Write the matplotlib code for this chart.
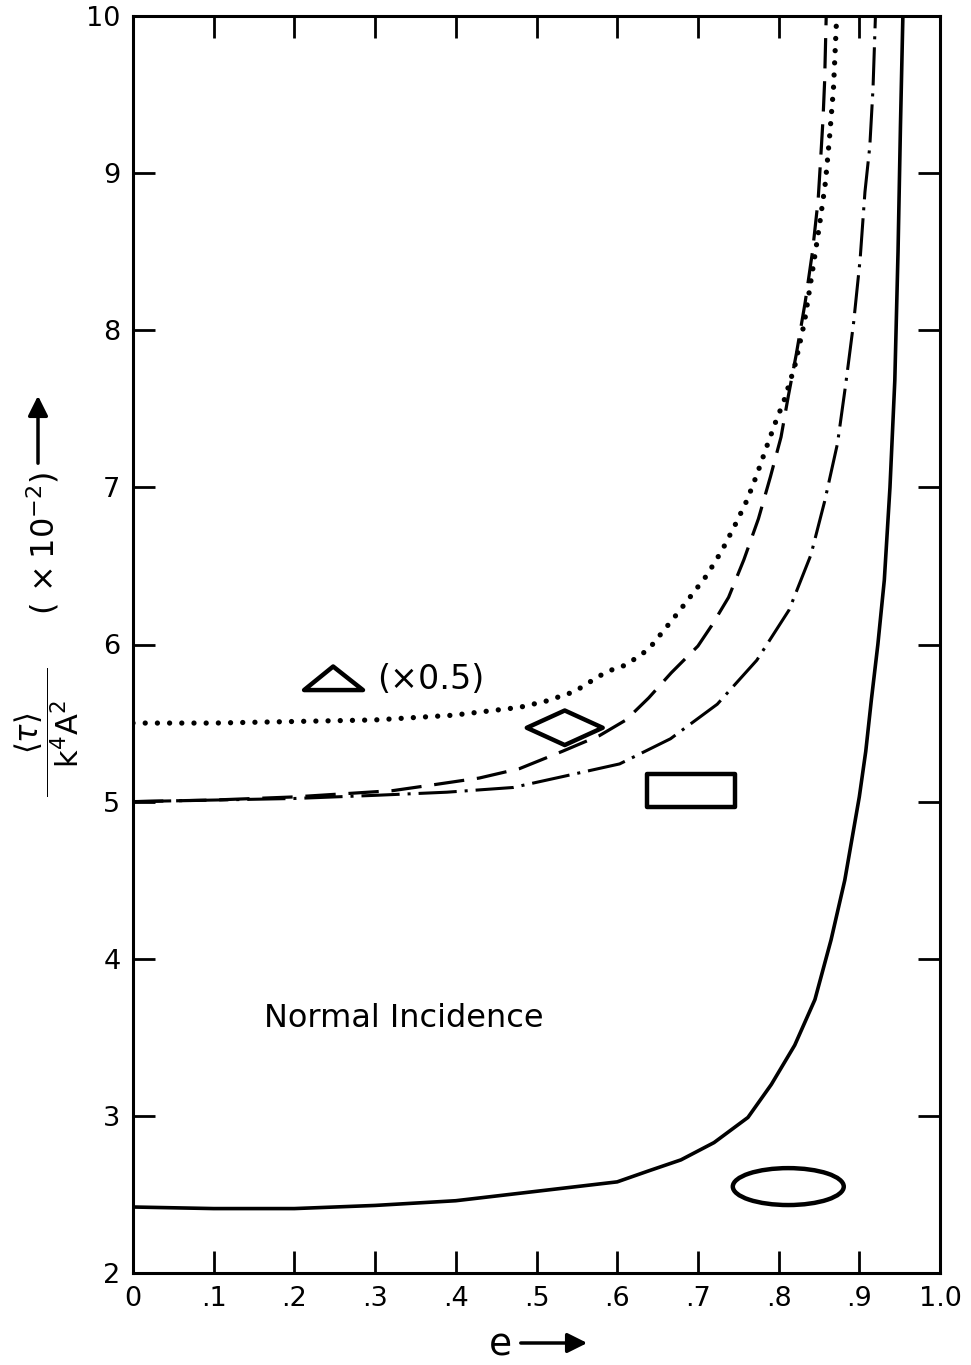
import matplotlib
matplotlib.use('Agg')
import matplotlib.pyplot as plt
from matplotlib.patches import Polygon, Rectangle, Ellipse

plt.rcParams['font.family'] = ['DejaVu Sans']
plt.rcParams['mathtext.fontset'] = 'dejavusans'

# values
e_solid = [0.00, 0.10, 0.20, 0.30, 0.40, 0.50, 0.60, 0.639, 0.679, 0.72, 0.762, 0.791,
           0.82, 0.845, 0.865, 0.882, 0.90, 0.908, 0.915, 0.923, 0.931, 0.938, 0.944,
           0.948, 0.951, 0.954]
t_solid = [2.42, 2.41, 2.41, 2.43, 2.46, 2.52, 2.58, 2.65, 2.72, 2.83, 2.99, 3.20,
           3.45, 3.74, 4.12, 4.50, 5.03, 5.32, 5.65, 6.00, 6.41, 7.00, 7.68,
           8.50, 9.30, 10.0]

e_dotted = [0.00, 0.10, 0.20, 0.30, 0.397, 0.446, 0.479, 0.512, 0.547, 0.578, 0.594,
            0.611, 0.639, 0.675, 0.711, 0.73, 0.747, 0.761, 0.773, 0.786, 0.798, 0.806,
            0.82, 0.832, 0.843, 0.851, 0.858, 0.863, 0.868, 0.872]
t_dotted = [5.50, 5.50, 5.51, 5.52, 5.55, 5.58, 5.60, 5.64, 5.70, 5.80, 5.84,
            5.87, 5.97, 6.20, 6.44, 6.60, 6.77, 6.92, 7.08, 7.27, 7.44, 7.54,
            7.77, 8.05, 8.41, 8.68, 8.94, 9.22, 9.54, 10.0]

e_dashed = [0.00, 0.10, 0.20, 0.322, 0.376, 0.429, 0.479, 0.532, 0.578, 0.611, 0.639,
            0.667, 0.70, 0.717, 0.738, 0.757, 0.775, 0.79, 0.803, 0.812, 0.822, 0.833,
            0.842, 0.849, 0.852, 0.855, 0.857, 0.859]
t_dashed = [5.00, 5.01, 5.03, 5.07, 5.11, 5.15, 5.21, 5.32, 5.42, 5.52, 5.66,
            5.82, 5.99, 6.12, 6.30, 6.54, 6.80, 7.07, 7.32, 7.58, 7.85, 8.18,
            8.50, 8.83, 9.08, 9.34, 9.58, 10.0]

e_dashdot = [0.00, 0.10, 0.20, 0.30, 0.389, 0.471, 0.533, 0.603, 0.666, 0.724, 0.773,
             0.813, 0.84, 0.857, 0.873, 0.883, 0.893, 0.901, 0.907, 0.913, 0.917, 0.920]
t_dashdot = [5.00, 5.01, 5.02, 5.04, 5.06, 5.09, 5.16, 5.24, 5.40, 5.62, 5.90,
             6.22, 6.57, 6.91, 7.28, 7.65, 8.05, 8.45, 8.88, 9.17, 9.54, 10.0]

x_ticks = [0.0, 0.1, 0.2, 0.3, 0.4, 0.5, 0.6, 0.7, 0.8, 0.9, 1.0]
x_labels = ['0', '.1', '.2', '.3', '.4', '.5', '.6', '.7', '.8', '.9', '1.0']
y_ticks = [2, 3, 4, 5, 6, 7, 8, 9, 10]

W, H = 971, 1365
fig = plt.figure(figsize=(W / 100, H / 100), dpi=100)
ax = fig.add_axes([133 / W, 1 - 1273 / H, (940 - 133) / W, (1273 - 16) / H])

ax.plot(e_solid, t_solid, color='black', lw=2.6)
ax.plot(e_dotted, t_dotted, color='black', lw=3.8, linestyle=(0, (0.01, 2.3)),
        dash_capstyle='round')
ax.plot(e_dashed, t_dashed, color='black', lw=2.3, linestyle=(0, (9.5, 4.0)))
ax.plot(e_dashdot, t_dashdot, color='black', lw=2.2,
        linestyle=(0, (12.5, 2.6, 1.0, 2.6)))

# curve symbols
sym = dict(fill=False, edgecolor='black', lw=3.2, joinstyle='round')
ax.add_patch(Polygon([(0.212, 5.71), (0.248, 5.86), (0.285, 5.71)], closed=True, **sym))
ax.text(0.302, 5.78, '(×0.5)', fontsize=24, va='center', ha='left')
ax.add_patch(Polygon([(0.488, 5.47), (0.535, 5.58), (0.582, 5.47), (0.535, 5.36)],
                     closed=True, **sym))
ax.add_patch(Rectangle((0.637, 4.965), 0.109, 0.21, **sym))
ax.add_patch(Ellipse((0.812, 2.55), 0.1375, 0.235, **sym))

ax.text(0.335, 3.62, 'Normal Incidence', fontsize=23, ha='center', va='center')

ax.set_xlim(0, 1.0)
ax.set_ylim(2, 10)
ax.set_xticks(x_ticks)
ax.set_xticklabels(x_labels)
ax.set_yticks(y_ticks)
ax.tick_params(direction='in', length=16, width=2.0, top=True, right=True,
               labelsize=19.5, pad=9)
for s in ax.spines.values():
    s.set_linewidth(2.2)

# y label pieces (rotated)
fig.text(47 / W, 1 - 732 / H,
         r'$\dfrac{\langle\tau\rangle}{\quad\mathrm{k}^4\mathrm{A}^2\quad}$',
         rotation=90, fontsize=22, ha='center', va='center')
fig.text(43 / W, 1 - 543 / H, r'$(\,\times10^{-2})$', rotation=90,
         fontsize=23, ha='center', va='center')
ax.annotate('', xy=(38 / W, 1 - 393 / H), xytext=(38 / W, 1 - 466 / H),
            xycoords='figure fraction', textcoords='figure fraction',
            arrowprops=dict(arrowstyle='-|>', lw=2.5, color='black', mutation_scale=30),
            annotation_clip=False)

# x label
fig.text(500 / W, 1 - 1345 / H, 'e', fontsize=27, ha='center', va='center')
ax.annotate('', xy=(590 / W, 1 - 1343 / H), xytext=(518 / W, 1 - 1343 / H),
            xycoords='figure fraction', textcoords='figure fraction',
            arrowprops=dict(arrowstyle='-|>', lw=2.5, color='black', mutation_scale=30),
            annotation_clip=False)

fig.savefig('out.png', dpi=100)
